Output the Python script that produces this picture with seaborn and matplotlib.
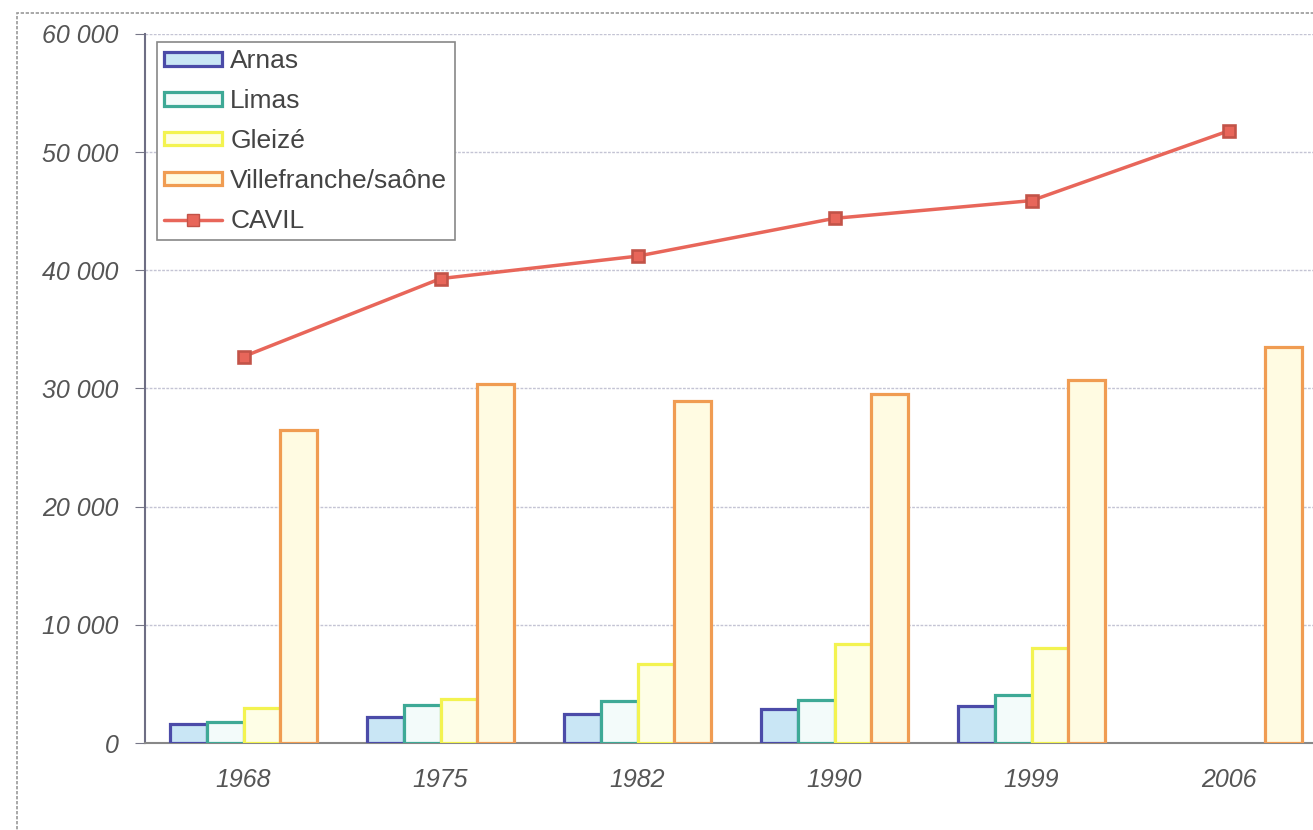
import numpy as np
import pandas as pd
import matplotlib
matplotlib.use("Agg")
import matplotlib.pyplot as plt
import matplotlib.patches as mpatches
from matplotlib.lines import Line2D
import seaborn as sns

# ---- data ----
years = ["1968", "1975", "1982", "1990", "1999", "2006"]
arnas = [1600, 2200, 2450, 2900, 3100, np.nan]
limas = [1800, 3200, 3550, 3600, 4050, np.nan]
gleize = [3000, 3700, 6700, 8350, 8050, np.nan]
villefranche = [26500, 30350, 28900, 29500, 30700, 33500]
cavil = [32700, 39300, 41200, 44400, 45900, 51800]
series_names = ["Arnas", "Limas", "Gleizé", "Villefranche/saône"]
y_ticks = [0, 10000, 20000, 30000, 40000, 50000, 60000]
y_tick_labels = ["0", "10 000", "20 000", "30 000", "40 000", "50 000", "60 000"]

face_colors = ["#c9e6f5", "#f3fbfa", "#fefee6", "#fffbe2"]
edge_colors = ["#4b4ba8", "#3ea996", "#f3f350", "#f09c52"]
line_color = "#e8665a"

rows = []
for name, vals in zip(series_names, [arnas, limas, gleize, villefranche]):
    for yr, v in zip(years, vals):
        if not np.isnan(v):
            rows.append({"year": yr, "commune": name, "pop": v})
df = pd.DataFrame(rows)
df_line = pd.DataFrame({"year": years, "CAVIL": cavil})

sns.set_style("white")
plt.rcParams["font.family"] = ["Liberation Sans", "DejaVu Sans"]

W, H = 1313, 830
fig = plt.figure(figsize=(W / 100, H / 100), dpi=100)
fig.patch.set_facecolor("white")
ax = fig.add_axes([145 / W, 1 - 743 / H, (6 * 197) / W, (743 - 34) / H])

sns.barplot(data=df, x="year", y="pop", hue="commune", order=years,
            hue_order=series_names, palette=face_colors, saturation=1,
            width=0.75, gap=0, ax=ax, legend=False, zorder=3)
for cont, ec in zip(ax.containers, edge_colors):
    for bar in cont:
        bar.set_edgecolor(ec)
        bar.set_linewidth(2.3)
        bar.set_zorder(3)

sns.pointplot(data=df_line, x="year", y="CAVIL", order=years, color=line_color,
              markers="s", linestyles="-", ax=ax, zorder=5,
              markersize=8, linewidth=2.5)
for ln in ax.lines:
    ln.set_markeredgecolor("#c25348")
    ln.set_markerfacecolor(line_color)
    ln.set_zorder(5)

ax.set_xlim(-0.5, 5.5)
ax.set_ylim(0, 60000)
ax.set_yticks(y_ticks)
ax.set_yticklabels(y_tick_labels, fontsize=18, style="italic", color="#555555")
ax.set_xticks(range(len(years)))
ax.set_xticklabels(years, fontsize=18, style="italic", color="#555555")
ax.set_xticks(np.arange(0.5, 5.5, 1.0), minor=True)
ax.tick_params(axis="x", which="major", length=0, pad=18)
ax.tick_params(axis="x", which="minor", length=6, color="#888888", direction="out")
ax.tick_params(axis="y", length=7, color="#777788", direction="out", pad=12, left=True)
ax.set_xlabel("")
ax.set_ylabel("")

ax.yaxis.grid(True, color="#c4c4d4", linestyle=(0, (2, 1)), linewidth=1, zorder=0)
ax.set_axisbelow(True)
for s in ["top", "right"]:
    ax.spines[s].set_visible(False)
ax.spines["left"].set_color("#6e6e84")
ax.spines["left"].set_linewidth(1.5)
ax.spines["bottom"].set_color("#888888")
ax.spines["bottom"].set_linewidth(1.5)

handles = [mpatches.Patch(facecolor=fc, edgecolor=ec, linewidth=2.3, label=n)
           for fc, ec, n in zip(face_colors, edge_colors, series_names)]
handles.append(Line2D([0], [0], color=line_color, marker="s", markersize=9,
                      markerfacecolor=line_color, markeredgecolor="#c25348",
                      linewidth=2.5, label="CAVIL"))
leg = ax.legend(handles=handles, loc="upper left",
                bbox_to_anchor=((157 - 145) / (6 * 197), 1 - (42 - 34) / (743 - 34)),
                fontsize=19, frameon=True, fancybox=False, framealpha=1,
                edgecolor="#888888", borderpad=0.28, labelspacing=0.6,
                handlelength=2.2, handleheight=0.42, handletextpad=0.3,
                borderaxespad=0)
leg.get_frame().set_linewidth(1.2)
leg.set_zorder(10)
for t in leg.get_texts():
    t.set_color("#444444")

# chart area border
border = mpatches.Rectangle((17 / W, -0.05), 1.05, (830 - 13) / H + 0.05,
                            transform=fig.transFigure, fill=False,
                            edgecolor="#999999", linewidth=1.2,
                            linestyle=(0, (2, 1)), zorder=0)
fig.patches.append(border)

fig.savefig("out.png", dpi=100)
